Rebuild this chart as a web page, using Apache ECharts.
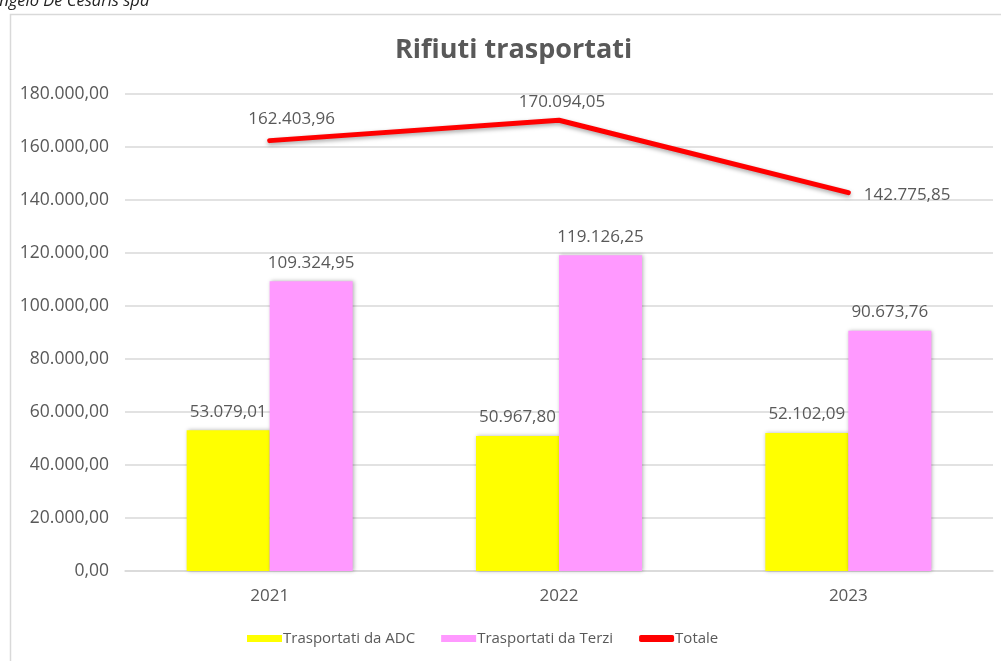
<!DOCTYPE html>
<html>
<head>
<meta charset="utf-8">
<script src="https://cdn.jsdelivr.net/npm/echarts@6/dist/echarts.min.js"></script>
<style>html,body{margin:0;padding:0;background:#fff}#c{width:1001px;height:661px}</style>
</head>
<body>
<div id="c"></div>
<script>
var categories = ['2021', '2022', '2023'];
var adc = [53079.01, 50967.80, 52102.09];
var terzi = [109324.95, 119126.25, 90673.76];
var totale = [162403.96, 170094.05, 142775.85];
var yTicks = [0, 20000, 40000, 60000, 80000, 100000, 120000, 140000, 160000, 180000];

function fmt(v) {
  var s = Number(v).toFixed(2);
  var parts = s.split('.');
  var ip = parts[0].replace(/\B(?=(\d{3})+(?!\d))/g, '.');
  return ip + ',' + parts[1];
}

var FONT = 'Open Sans';
var TXT = '#595959';
var chart = echarts.init(document.getElementById('c'));
var lineOffsets = [[22, -7], [3, -4], null];
chart.setOption({
  animation: false,
  backgroundColor: '#fff',
  title: {
    text: 'Rifiuti trasportati',
    left: 390,
    top: 32,
    textStyle: { fontFamily: FONT, fontSize: 27, fontWeight: 'bold', color: TXT }
  },
  graphic: [
    { type: 'rect', left: 8, top: 12, shape: { width: 1010, height: 720 }, style: { fill: 'none', stroke: '#d9d9d9', lineWidth: 1.5 }, silent: true },
    { type: 'text', left: -10, top: -7, style: { text: 'Angelo De Cesaris spa', fontFamily: FONT, fontStyle: 'italic', fontSize: 16.5, fill: '#222' } }
  ],
  legend: {
    bottom: 10,
    left: 242,
    itemWidth: 35,
    itemHeight: 7,
    itemGap: 26,
    textStyle: { fontFamily: FONT, fontSize: 15, color: TXT, padding: [0, 0, 0, -4] },
    data: [
      { name: 'Trasportati da ADC', icon: 'rect' },
      { name: 'Trasportati da Terzi', icon: 'rect' },
      { name: 'Totale', icon: 'roundRect', itemStyle: { color: '#ff0000', opacity: 1 } }
    ]
  },
  grid: { left: 125, right: 8, top: 94, bottom: 90 },
  xAxis: {
    type: 'category',
    data: categories,
    axisLine: { lineStyle: { color: '#d9d9d9', width: 1.5 } },
    axisTick: { show: false },
    axisLabel: { fontFamily: FONT, fontSize: 17, color: TXT, margin: 17 }
  },
  yAxis: {
    type: 'value',
    min: yTicks[0],
    max: yTicks[yTicks.length - 1],
    interval: yTicks[1] - yTicks[0],
    axisLine: { show: false },
    axisTick: { show: false },
    splitLine: { lineStyle: { color: '#d9d9d9', width: 1.5 } },
    axisLabel: { fontFamily: FONT, fontSize: 17.5, color: TXT, margin: 16, formatter: function (v) { return fmt(v); } }
  },
  series: [
    {
      name: 'Trasportati da ADC',
      type: 'bar',
      data: adc,
      barWidth: 83,
      barGap: '0%',
      itemStyle: { color: '#ffff00', shadowColor: 'rgba(0,0,0,0.3)', shadowBlur: 4, shadowOffsetX: 1 },
      label: { show: true, position: 'top', distance: 10, fontFamily: FONT, fontSize: 17, color: TXT, formatter: function (p) { return fmt(p.value); } }
    },
    {
      name: 'Trasportati da Terzi',
      type: 'bar',
      data: terzi,
      barWidth: 83,
      barGap: '0%',
      itemStyle: { color: '#ff99ff', shadowColor: 'rgba(0,0,0,0.3)', shadowBlur: 4, shadowOffsetX: 1 },
      label: { show: true, position: 'top', distance: 10, fontFamily: FONT, fontSize: 17, color: TXT, formatter: function (p) { return fmt(p.value); } }
    },
    {
      name: 'Totale',
      type: 'line',
      data: totale.map(function (v, i) {
        var o = { value: v };
        if (lineOffsets[i]) {
          o.label = { position: 'top', offset: lineOffsets[i] };
        } else {
          o.label = { position: 'right', distance: 15, offset: [0, 3] };
        }
        return o;
      }),
      symbol: 'circle',
      symbolSize: 1,
      showSymbol: true,
      lineStyle: { color: '#ff0000', width: 5, cap: 'round', shadowColor: 'rgba(0,0,0,0.35)', shadowBlur: 4, shadowOffsetY: 2 },
      itemStyle: { color: 'rgba(255,0,0,0)', borderWidth: 0 },
      label: { show: true, fontFamily: FONT, fontSize: 17, color: TXT, formatter: function (p) { return fmt(p.value); } },
      z: 5
    }
  ]
});
</script>
</body>
</html>
